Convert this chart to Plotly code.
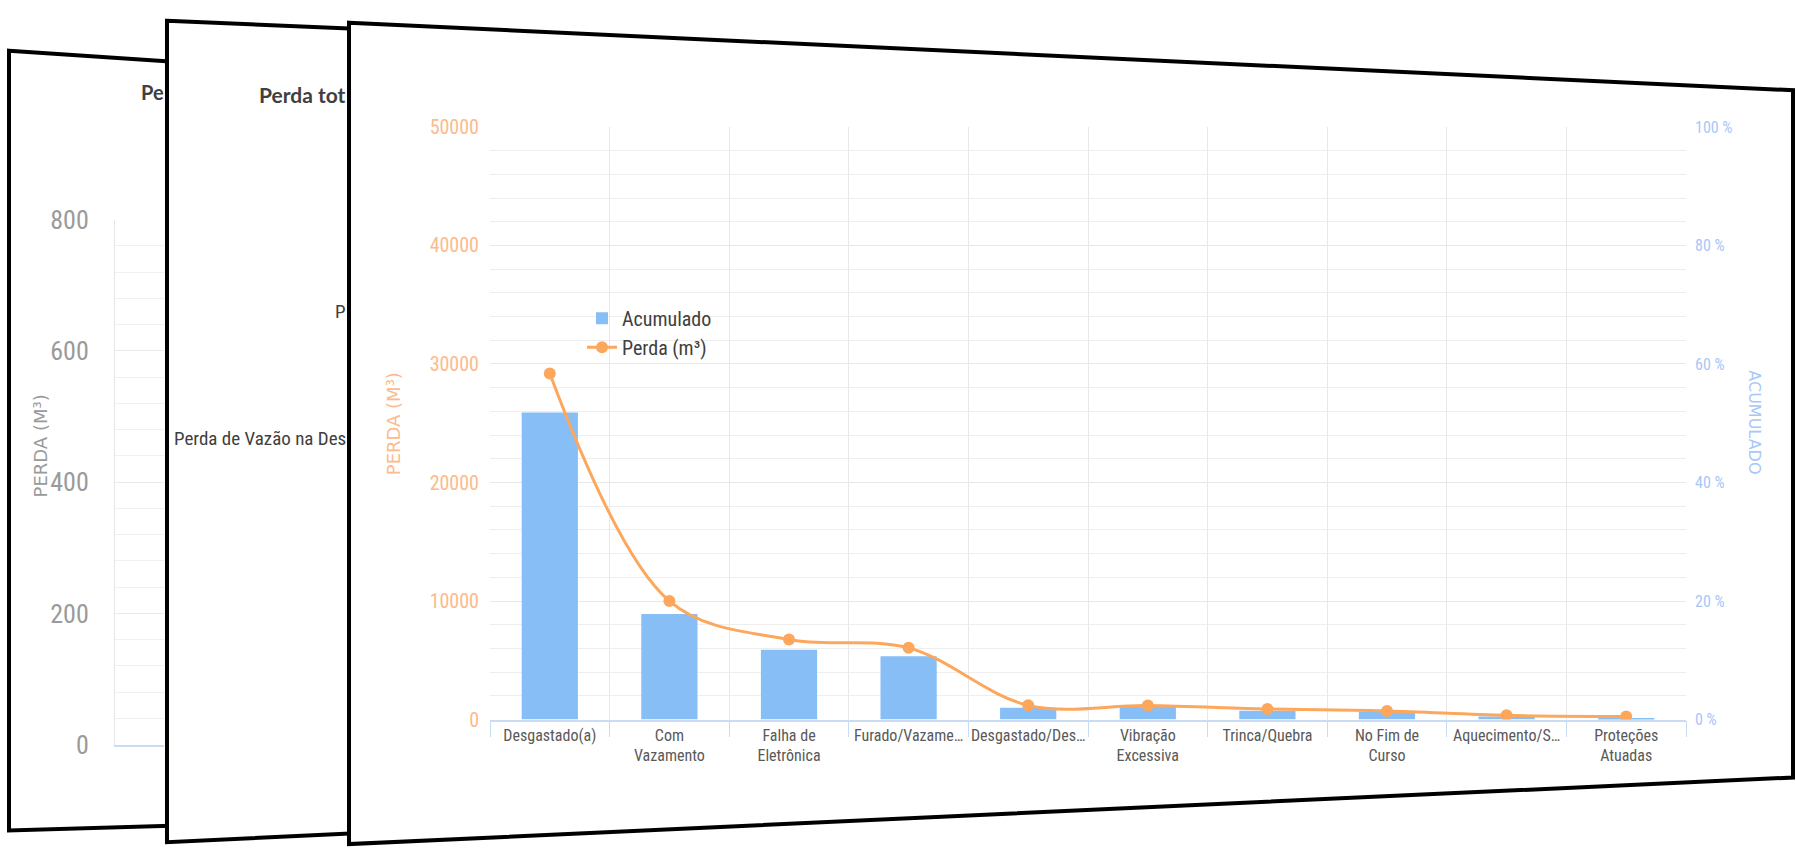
import plotly.graph_objects as go

W, H = 1796, 861

# Falhas (ordenadas pela perda)
categorias = [
    "Desgastado(a)", "Com<br>Vazamento", "Falha de<br>Eletrônica", "Furado/Vazame…",
    "Desgastado/Des…", "Vibração<br>Excessiva", "Trinca/Quebra", "No Fim de<br>Curso",
    "Aquecimento/S…", "Proteções<br>Atuadas",
]
acumulado_pct = [51.8, 17.8, 11.8, 10.7, 2.0, 2.1, 1.5, 1.3, 0.5, 0.2]
perda_m3 = [29200, 10000, 6750, 6050, 1200, 1180, 900, 720, 360, 260]

ticks_perda = [0, 10000, 20000, 30000, 40000, 50000]
ticks_acum = [0, 20, 40, 60, 80, 100]
rotulos_acum = ["0 %", "20 %", "40 %", "60 %", "80 %", "100 %"]
ticks_fundo = [0, 200, 400, 600, 800]

NARROW = "Liberation Sans Narrow, Roboto Condensed, DejaVu Sans Condensed, Roboto, sans-serif"
SANS = "Lato, Open Sans, DejaVu Sans, sans-serif"
WIDE = "DejaVu Sans, Verdana, sans-serif"

AZUL = "#86BEF5"
LARANJA = "#FDA75C"
PESSEGO = "#FDBA8C"
AZUL_CLARO = "#A8C7F7"
GRADE = "#E8E8E8"


def fx(x):
    return x / W


def fy(y):
    return 1 - y / H


def cartao(pts):
    d = "M " + " L ".join(f"{fx(x):.5f},{fy(y):.5f}" for x, y in pts) + " Z"
    return dict(type="path", path=d, xref="paper", yref="paper", layer="below",
                fillcolor="white", line=dict(color="black", width=4))


def texto(t, x, y, size, color, family=SANS, angle=0, xanchor="center"):
    return dict(text=t, x=fx(x), y=fy(y), xref="paper", yref="paper",
                xanchor=xanchor, yanchor="middle", textangle=angle, showarrow=False,
                font=dict(family=family, size=size, color=color))


fig = go.Figure()

fig.add_trace(go.Bar(
    x=categorias, y=acumulado_pct, name="Acumulado",
    marker=dict(color=AZUL, line=dict(width=0)),
    xaxis="x", yaxis="y",
))
fig.add_trace(go.Scatter(
    x=categorias, y=perda_m3, name="Perda (m³)", mode="lines+markers",
    line=dict(color=LARANJA, width=3, shape="spline", smoothing=1.0),
    marker=dict(size=12, color=LARANJA),
    xaxis="x", yaxis="y2",
))
# painel de fundo (só o eixo fica visível)
fig.add_trace(go.Scatter(x=[], y=[], xaxis="x3", yaxis="y3", showlegend=False, hoverinfo="skip"))

shapes = [
    cartao([(9, 37), (400, 64), (400, 833), (9, 845)]),
    cartao([(167, 6), (600, 25), (600, 836), (167, 857)]),
    cartao([(349, 8), (1793, 78), (1793, 790), (349, 859)]),
]

annotations = [
    texto("PERDA (M³)", 393, 424, 18, PESSEGO, family=WIDE, angle=-90),
    texto("ACUMULADO", 1755, 422, 16, AZUL_CLARO, family=WIDE, angle=90),
    texto("PERDA (M³)", 40, 447, 18, "#9A9A9A", family=WIDE, angle=-90),
    texto("<b>Pe</b>", 166, 80, 20, "#404040", xanchor="right"),
    texto("<b>Perda tot</b>", 348, 82, 21, "#404040", xanchor="right"),
    texto("P", 348, 307, 19, "#404040", family=NARROW, xanchor="right"),
    texto("Perda de Vazão na Des", 348, 439, 19, "#404040", family=NARROW, xanchor="right"),
]

fig.update_layout(
    width=W, height=H, autosize=False,
    margin=dict(l=0, r=0, t=0, b=0),
    paper_bgcolor="white", plot_bgcolor="rgba(0,0,0,0)",
    font=dict(family=NARROW, color="#595959"),
    shapes=shapes, annotations=annotations,
    bargap=0.53,
    showlegend=True,
    legend=dict(x=fx(582), y=fy(294), xanchor="left", yanchor="top",
                bgcolor="rgba(0,0,0,0)", font=dict(family=NARROW, size=20, color="#404040")),
    xaxis=dict(
        domain=[fx(490), fx(1686)], anchor="y", type="category", range=[-0.5, 9.5],
        tickson="boundaries", ticks="outside", ticklen=16, tickwidth=1, tickcolor="#C9DCF4",
        showgrid=True, gridcolor=GRADE, showline=True, linecolor="#C9DCF4", linewidth=1.5,
        tickangle=0, tickfont=dict(family=NARROW, size=16, color="#595959"),
    ),
    yaxis=dict(
        domain=[fy(730), fy(116)], anchor="x", side="right", range=[0, 100],
        tickmode="array", tickvals=ticks_acum, ticktext=rotulos_acum,
        tickfont=dict(family=NARROW, size=16, color=AZUL_CLARO),
        showgrid=True, gridcolor=GRADE, zeroline=False, showline=False,
        minor=dict(tickmode="linear", tick0=0, dtick=4, showgrid=True, gridcolor="#EEEEEE"),
        ticklabelstandoff=8,
    ),
    yaxis2=dict(
        overlaying="y", anchor="x", side="left", range=[0, 50000],
        tickmode="array", tickvals=ticks_perda, tickformat="d",
        tickfont=dict(family=NARROW, size=20, color=PESSEGO),
        showgrid=False, zeroline=False, showline=False, ticklabelstandoff=10,
    ),
    xaxis3=dict(
        domain=[fx(115), fx(164)], anchor="y3", range=[0, 1],
        showticklabels=False, showgrid=False, zeroline=False,
        showline=True, linecolor="#C9DCF4", linewidth=1.5,
    ),
    yaxis3=dict(
        domain=[fy(756), fy(212)], anchor="x3", range=[0, 800],
        tickmode="array", tickvals=ticks_fundo,
        tickfont=dict(family=NARROW, size=26, color="#9A9A9A"),
        showgrid=True, gridcolor="#EBEBEB", zeroline=False,
        showline=True, linecolor="#E6E6E6",
        minor=dict(tickmode="linear", tick0=0, dtick=40, showgrid=True, gridcolor="#F0F0F0"),
        ticklabelstandoff=20,
    ),
)

fig.write_html("out.html")
